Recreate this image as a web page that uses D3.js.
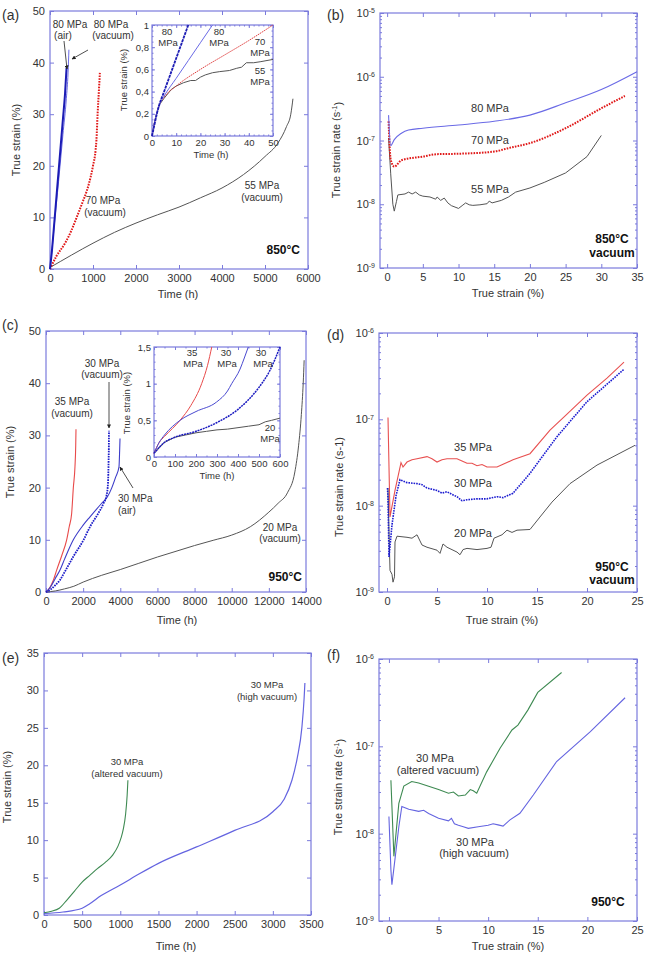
<!DOCTYPE html>
<html lang="en">
<head>
<meta charset="UTF-8">
<title>Creep curves</title>
<script src="https://cdnjs.cloudflare.com/ajax/libs/d3/7.8.5/d3.min.js"></script>
<style>
  body { margin: 0; background: #fff; }
  svg { font-family: "Liberation Sans", Arial, sans-serif; }
  .tick text { fill: #333; }
</style>
</head>
<body>
<script>
// ---- data (a) 850°C, strain vs time ----
const a80Air = [[0,0],[50,4],[100,9],[150,14],[200,19],[250,24],[300,29],[350,34],[385,39]];
const a80Vac = [[0,0],[50,4],[100,8.5],[200,17],[300,26],[380,33],[420,38],[440,42.5]];
const a70 = [[0,0],[150,2.5],[350,5],[500,7.5],[620,10],[760,13],[850,15],[950,18],[1000,20],[1060,23],[1080,25],[1107,30],[1140,35],[1160,38]];
const a55 = [[0,0.3],[250,1.5],[500,2.7],[1000,5],[1500,7.1],[2000,8.9],[2500,10.5],[3000,12],[3500,13.8],[4000,15.7],[4500,18.3],[5000,21.8],[5300,24.4],[5500,27.6],[5600,30],[5650,33]];
// inset (a)
const ia80Air = [[0,0],[1,0.1],[2,0.2],[3,0.28],[5,0.4],[7.5,0.55],[10,0.7],[12.5,0.85],[15,1]];
const ia80Vac = [[0,0],[1,0.12],[3,0.28],[5,0.36],[10,0.52],[15,0.68],[20,0.84],[25,1]];
const ia70 = [[0,0],[1,0.12],[3,0.28],[5,0.35],[10,0.45],[20,0.6],[30,0.73],[40,0.86],[50,1]];
const ia55 = [[0,0],[1,0.12],[3,0.28],[5,0.34],[8,0.42],[10,0.45],[13,0.48],[16,0.5],[18,0.5],[20,0.53],[22,0.55],[25,0.57],[28,0.58],[32,0.59],[35,0.61],[37,0.62],[39,0.66],[42,0.66],[45,0.67],[50,0.69]];

// ---- data (b) 850°C, rate vs strain ----
const b80 = [[0.2,2.5e-7],[0.5,8.3e-8],[1,1.03e-7],[2,1.3e-7],[3,1.46e-7],[5,1.56e-7],[10,1.75e-7],[15,2.0e-7],[20,2.5e-7],[25,3.9e-7],[30,6.3e-7],[35,1.2e-6]];
const b70 = [[0.2,2e-7],[0.5,5e-8],[1,3.9e-8],[2,4.9e-8],[5,5.6e-8],[7,6.1e-8],[10,6.2e-8],[15,6.7e-8],[17,7.6e-8],[20,9.1e-8],[25,1.56e-7],[30,3.2e-7],[33.3,5e-7]];
const b55 = [[0.2,1.1e-7],[0.5,3e-8],[0.8,1e-8],[1,7.8e-9],[1.3,1.1e-8],[1.5,1.4e-8],[2.5,1.45e-8],[3,1.55e-8],[3.5,1.45e-8],[4,1.55e-8],[4.5,1.4e-8],[5,1.34e-8],[6,1.3e-8],[6.8,1.2e-8],[7,1.3e-8],[7.5,1.15e-8],[8,1.25e-8],[8.5,1.05e-8],[9,9.5e-9],[10,8.6e-9],[10.5,9.5e-9],[11,1.05e-8],[11.5,9.8e-9],[12,9.6e-9],[13,9.8e-9],[14,1.02e-8],[14.3,1.12e-8],[14.7,1.05e-8],[16,1.15e-8],[17,1.3e-8],[18,1.55e-8],[20,1.8e-8],[22,2.2e-8],[25,3.1e-8],[28,5.6e-8],[30,1.2e-7]];

// ---- data (c) 950°C, strain vs time ----
const c35 = [[0,0],[200,0.8],[400,2.3],[575,4.2],[850,7],[1113,10],[1250,12.5],[1380,15],[1472,20],[1560,24],[1600,28],[1615,31.2]];
const c30Vac = [[0,0],[250,0.5],[500,1.3],[754,2.3],[1000,3.8],[1472,6.8],[2025,10],[2370,12.5],[2800,15],[3100,17],[3267,18.6],[3340,21],[3370,25],[3385,28],[3392,30.9]];
const c30Air = [[0,0],[250,1],[500,2.6],[754,4.2],[1000,6.3],[1472,10],[2000,12.8],[2370,14.4],[3000,17],[3300,18.2],[3536,19.9],[3750,22],[3931,24],[3965,27],[3985,29.4]];
const c20 = [[0,0],[500,0.2],[1000,0.6],[1500,1.1],[2000,1.9],[3000,3.2],[4000,4.3],[5000,5.5],[6000,6.7],[7000,7.8],[8000,8.9],[9000,9.9],[10000,10.9],[11000,12.5],[12000,15.3],[12500,17],[13000,19],[13400,23],[13600,28],[13750,34],[13850,40],[13900,44.4]];
// inset (c)
const ic35 = [[0,0.05],[25,0.2],[50,0.28],[124,0.5],[175,0.7],[227,1.0],[255,1.25],[275,1.5]];
const ic30Air = [[0,0.05],[25,0.2],[50,0.3],[124,0.5],[200,0.62],[298,0.75],[350,0.9],[370,1.0],[410,1.2],[430,1.35],[449,1.5]];
const ic30Vac = [[0,0.05],[50,0.2],[100,0.27],[200,0.35],[300,0.47],[400,0.65],[500,0.95],[550,1.17],[600,1.5]];
const ic20 = [[0,0.05],[50,0.2],[100,0.27],[150,0.3],[200,0.33],[250,0.35],[300,0.37],[350,0.38],[400,0.4],[450,0.42],[500,0.44],[530,0.48],[560,0.5],[600,0.53]];

// ---- data (d) 950°C, rate vs strain ----
const d35 = [[0.1,1.05e-7],[0.3,7.4e-9],[0.8,1.5e-8],[1.4,3.15e-8],[1.6,2.8e-8],[2,3.2e-8],[2.5,3.4e-8],[3,3.5e-8],[4,3.7e-8],[4.5,3.5e-8],[5,3.2e-8],[5.5,3.4e-8],[6,3.5e-8],[7,3.5e-8],[7.5,3.3e-8],[8,3.1e-8],[8.5,3.1e-8],[9,2.9e-8],[9.5,3e-8],[10,2.8e-8],[10.5,2.8e-8],[11,2.8e-8],[12.6,3.4e-8],[14.3,4e-8],[16.3,7.5e-8],[18,1.15e-7],[20,1.91e-7],[22,3e-7],[23.7,4.6e-7]];
const d30 = [[0.05,1.6e-8],[0.1,1.2e-8],[0.2,2.55e-9],[0.5,6e-9],[0.9,1.3e-8],[1.3,2.0e-8],[2,1.85e-8],[3,1.8e-8],[3.5,1.75e-8],[4,1.6e-8],[5,1.5e-8],[5.5,1.4e-8],[6,1.45e-8],[6.5,1.35e-8],[7,1.27e-8],[7.5,1.14e-8],[8,1.17e-8],[9,1.2e-8],[10,1.2e-8],[11,1.27e-8],[11.6,1.24e-8],[12.6,1.39e-8],[14.3,2.37e-8],[17,6.3e-8],[20,1.6e-7],[23.7,3.8e-7]];
const d20 = [[0.1,1.6e-8],[0.2,5e-9],[0.3,1.78e-9],[0.5,1.6e-9],[0.6,1.3e-9],[0.75,1.5e-9],[0.8,3.8e-9],[1,4.43e-9],[2,4.3e-9],[2.5,4.2e-9],[3,4.6e-9],[3.5,3.5e-9],[4,3.3e-9],[5,3.05e-9],[5.3,2.8e-9],[5.6,3.6e-9],[6,3.3e-9],[7,2.9e-9],[7.3,2.7e-9],[7.6,3.1e-9],[8,3.2e-9],[9,3.1e-9],[10,3.2e-9],[10.4,3.3e-9],[10.7,4.2e-9],[11.5,4.6e-9],[12,5.2e-9],[12.5,4.9e-9],[13,5.2e-9],[14.3,5.3e-9],[15.3,7.4e-9],[16.5,1.1e-8],[18.3,1.8e-8],[21,2.95e-8],[24.8,5e-8]];

// ---- data (e) 950°C 30 MPa, strain vs time ----
const eAltered = [[0,0.3],[100,0.5],[200,0.9],[300,2.0],[400,3.2],[500,4.4],[600,5.3],[700,6.2],[800,7.0],[900,8.0],[970,9.2],[1010,10.3],[1040,11.5],[1070,13.5],[1090,16],[1100,18]];
const eHigh = [[0,0.2],[250,0.4],[500,0.9],[600,1.5],[750,2.6],[1000,4.0],[1250,5.5],[1500,6.9],[2000,9.1],[2500,11.3],[3000,13.8],[3150,15.5],[3250,18],[3320,21],[3380,25],[3410,29],[3420,31]];

// ---- data (f) 950°C 30 MPa, rate vs strain ----
const fAltered = [[0.2,4.1e-8],[0.5,5.5e-9],[1,2.23e-8],[1.5,3.5e-8],[2.3,3.96e-8],[3,3.8e-8],[4,3.5e-8],[5,3.2e-8],[6,2.9e-8],[6.5,3e-8],[7,2.7e-8],[7.7,2.77e-8],[8.2,3.2e-8],[8.5,3.1e-8],[8.85,2.9e-8],[9.85,5.1e-8],[11.2,9.5e-8],[12.4,1.54e-7],[13,1.75e-7],[14,2.6e-7],[15,4.15e-7],[17.4,7e-7]];
const fHigh = [[0,1.57e-8],[0.2,3.85e-9],[0.3,2.6e-9],[0.5,4e-9],[1,1.2e-8],[1.3,2.05e-8],[2,1.9e-8],[3,1.8e-8],[3.5,1.85e-8],[4,1.7e-8],[5,1.5e-8],[6,1.4e-8],[6.3,1.5e-8],[6.6,1.3e-8],[7,1.25e-8],[7.5,1.2e-8],[8,1.15e-8],[9,1.2e-8],[10,1.25e-8],[10.5,1.3e-8],[11,1.26e-8],[11.5,1.22e-8],[12.2,1.44e-8],[13.2,1.71e-8],[14.55,2.77e-8],[16.9,6.7e-8],[20.3,1.47e-7],[23.8,3.6e-7]];

// tick values
const ticksA = { x: d3.range(0, 6001, 1000), y: d3.range(0, 51, 10) };
const ticksIA = { x: d3.range(0, 51, 10), y: [0, 0.2, 0.4, 0.6, 0.8, 1] };
const ticksC = { x: d3.range(0, 14001, 2000), y: d3.range(0, 51, 10) };
const ticksIC = { x: d3.range(0, 601, 100), y: [0, 0.5, 1, 1.5] };
const ticksE = { x: d3.range(0, 3501, 500), y: d3.range(0, 36, 5) };
const ticksRate35 = d3.range(0, 36, 5);
const ticksRate25 = d3.range(0, 26, 5);

const frameColor = "#7b7bdc";
const svg = d3.select("body").append("svg").attr("width", 645).attr("height", 955);

// generic panel: frame, inward ticks on all four sides, labels outside
function panel(o) {
    const x = d3.scaleLinear().domain(o.xd).range([o.l, o.r]);
    const y = (o.log ? d3.scaleLog() : d3.scaleLinear()).domain(o.yd).range([o.b, o.t]);
    const g = svg.append("g");
    g.append("rect").attr("x", o.l).attr("y", o.t)
        .attr("width", o.r - o.l).attr("height", o.b - o.t)
        .attr("fill", "#fff").attr("stroke", "none");
    const fs = o.fs || 11, tl = o.tl || 4;
    const commaFmt = d => String(d).replace(".", ",");

    function ax(gen, pos, vals, size, labels, fmt) {
        const a = gen.tickValues(vals).tickSize(-size).tickPadding(o.pad || 5)
            .tickFormat(labels ? (fmt || commaFmt) : "");
        const sel = g.append("g").attr("transform", pos).call(a);
        sel.select(".domain").remove();
        sel.selectAll("line").attr("stroke", frameColor).attr("stroke-width", 1);
        sel.selectAll("text").attr("font-size", fs).attr("font-family", null);
        return sel;
    }
    ax(d3.axisBottom(x), `translate(0,${o.b})`, o.xt, tl, true);
    ax(d3.axisTop(x), `translate(0,${o.t})`, o.xt, tl, false);
    const yl = ax(d3.axisLeft(y), `translate(${o.l},0)`, o.yt, tl, true);
    ax(d3.axisRight(y), `translate(${o.r},0)`, o.yt, tl, false);
    if (o.xm) {
        ax(d3.axisBottom(x), `translate(0,${o.b})`, o.xm, tl / 2, false);
        ax(d3.axisTop(x), `translate(0,${o.t})`, o.xm, tl / 2, false);
    }
    if (o.ym) {
        ax(d3.axisLeft(y), `translate(${o.l},0)`, o.ym, tl / 2, false);
        ax(d3.axisRight(y), `translate(${o.r},0)`, o.ym, tl / 2, false);
    }
    if (o.log) {
        yl.selectAll(".tick text").text(null).each(function (d) {
            const t = d3.select(this);
            t.append("tspan").text("10");
            t.append("tspan").attr("dy", "-0.55em").attr("font-size", 7)
                .text(Math.round(Math.log10(d)));
        });
    }
    g.append("rect").attr("x", o.l).attr("y", o.t)
        .attr("width", o.r - o.l).attr("height", o.b - o.t)
        .attr("fill", "none").attr("stroke", frameColor).attr("stroke-width", 1.2);
    const lg = g.append("g");
    return { g: lg, x, y };
}

function series(p, data, color, width, dash, curve) {
    p.g.append("path").datum(data)
        .attr("fill", "none").attr("stroke", color)
        .attr("stroke-width", width).attr("stroke-dasharray", dash || null)
        .attr("d", d3.line().x(d => p.x(d[0])).y(d => p.y(d[1]))
            .curve(curve || d3.curveMonotoneX));
}

function text(x, y, str, o = {}) {
    const t = svg.append("text").attr("x", x).attr("y", y).text(str)
        .attr("font-size", o.fs || 10).attr("fill", o.fill || "#333")
        .attr("text-anchor", o.anchor || "middle")
        .attr("font-weight", o.bold ? "bold" : null);
    if (o.rot) t.attr("transform", `rotate(-90,${x},${y})`);
    return t;
}

function arrow(x1, y1, x2, y2) {
    svg.append("line").attr("x1", x1).attr("y1", y1).attr("x2", x2).attr("y2", y2)
        .attr("stroke", "#222").attr("stroke-width", 0.8).attr("marker-end", "url(#arr)");
}

svg.append("defs").append("marker").attr("id", "arr")
    .attr("viewBox", "0 0 10 10").attr("refX", 9).attr("refY", 5)
    .attr("markerWidth", 5).attr("markerHeight", 5).attr("orient", "auto")
    .append("path").attr("d", "M0,0 L10,5 L0,10 z").attr("fill", "#222");

const minorDec = lo => d3.range(lo, -5).flatMap(e => d3.range(2, 10).map(k => k * Math.pow(10, e)));

// ================= (a) =================
const pa = panel({ l: 50, r: 308, t: 11, b: 269, xd: [0, 6000], yd: [0, 50], xt: ticksA.x, yt: ticksA.y });
series(pa, a55, "#555", 1);
series(pa, a70, "#e01818", 2, "1.6,1.2");
series(pa, a80Vac, "#6a6ae6", 1);
series(pa, a80Air, "#1c1cb4", 2);
text(20, 140, "True strain (%)", { fs: 11, rot: true });
text(178, 298, "Time (h)", { fs: 11 });
text(2, 20, "(a)", { fs: 14, anchor: "start" });
text(70, 28, "80 MPa"); text(63, 39, "(air)");
text(111, 28, "80 MPa"); text(113, 39, "(vacuum)");
arrow(64, 41, 67, 69);
arrow(88, 50, 72, 59);
text(103, 204, "70 MPa"); text(105, 216, "(vacuum)");
text(262, 189, "55 MPa"); text(262, 201, "(vacuum)");
text(300, 254, "850°C", { fs: 12, bold: true, anchor: "end", fill: "#111" });

// inset (a)
const pia = panel({ l: 152, r: 273, t: 25, b: 136, xd: [0, 50], yd: [0, 1],
    xt: ticksIA.x, yt: ticksIA.y, xm: d3.range(0, 51, 2), ym: d3.range(0, 1.01, 0.05),
    fs: 9.5, tl: 3, pad: 3 });
series(pia, ia55, "#555", 1, null, d3.curveLinear);
series(pia, ia70, "#e04040", 1, "1.5,0.8");
series(pia, ia80Vac, "#6a6ae6", 1);
series(pia, ia80Air, "#1c1cb4", 1.8, "3,0.8");
text(127, 80, "True strain (%)", { fs: 9.5, rot: true });
text(211, 158, "Time (h)", { fs: 9.5 });
text(167, 35, "80", { fs: 9.5 }); text(168, 46, "MPa", { fs: 9.5 });
text(219, 35, "80", { fs: 9.5 }); text(219, 46, "MPa", { fs: 9.5 });
text(260, 45, "70", { fs: 9.5 }); text(260, 56, "MPa", { fs: 9.5 });
text(260, 74, "55", { fs: 9.5 }); text(260, 85, "MPa", { fs: 9.5 });

// ================= (b) =================
const pb = panel({ l: 380, r: 637, t: 13, b: 268, xd: [-1, 35], yd: [1e-9, 1e-5], log: true,
    xt: ticksRate35, yt: [1e-9, 1e-8, 1e-7, 1e-6, 1e-5], ym: minorDec(-9) });
series(pb, b55, "#555", 1, null, d3.curveLinear);
series(pb, b70, "#e01818", 2, "1.6,1.2");
series(pb, b80, "#6a6ae6", 1.1);
text(340, 150, "True strain rate (s", { fs: 11, rot: true })
    .append("tspan").attr("dy", "-0.5em").attr("font-size", 7).text("-1")
    .select(function () { return this.parentNode; })
    .append("tspan").attr("dy", "0.5em").text(")");
text(508, 297, "True strain (%)", { fs: 11 });
text(327, 20, "(b)", { fs: 14, anchor: "start" });
text(490, 112, "80 MPa", { fs: 11 });
text(490, 144, "70 MPa", { fs: 11 });
text(490, 193, "55 MPa", { fs: 11 });
text(612, 243, "850°C", { fs: 12, bold: true, fill: "#111" });
text(612, 257, "vacuum", { fs: 12, bold: true, fill: "#111" });

// ================= (c) =================
const pc = panel({ l: 46, r: 306, t: 331, b: 592, xd: [0, 14000], yd: [0, 50], xt: ticksC.x, yt: ticksC.y });
series(pc, c20, "#555", 1);
series(pc, c35, "#e84a4a", 1.1);
series(pc, c30Air, "#3c3cc8", 1.1);
series(pc, c30Vac, "#1c1cc8", 1.8, "1.6,1");
text(14, 462, "True strain (%)", { fs: 11, rot: true });
text(177, 624, "Time (h)", { fs: 11 });
text(2, 330, "(c)", { fs: 14, anchor: "start" });
text(72, 405, "35 MPa"); text(72, 417, "(vacuum)");
text(102, 367, "30 MPa"); text(102, 378, "(vacuum)");
arrow(109, 382, 109, 428);
text(118, 502, "30 MPa", { anchor: "start" }); text(118, 514, "(air)", { anchor: "start" });
arrow(133, 488, 120, 467);
text(280, 531, "20 MPa"); text(280, 542, "(vacuum)");
text(302, 581, "950°C", { fs: 12, bold: true, anchor: "end", fill: "#111" });

// inset (c)
const pic = panel({ l: 154, r: 280, t: 347, b: 457, xd: [0, 600], yd: [0, 1.5],
    xt: ticksIC.x, yt: ticksIC.y, xm: d3.range(0, 601, 50), ym: d3.range(0, 1.51, 0.1),
    fs: 9.5, tl: 3, pad: 3 });
series(pic, ic20, "#555", 1, null, d3.curveLinear);
series(pic, ic35, "#e84a4a", 1);
series(pic, ic30Air, "#4a4ad0", 1);
series(pic, ic30Vac, "#1c1cc0", 1.5, "2,0.8");
text(130, 403, "True strain (%)", { fs: 9.5, rot: true });
text(217, 479, "Time (h)", { fs: 9.5 });
text(192, 356, "35", { fs: 9.5 }); text(193, 367, "MPa", { fs: 9.5 });
text(226, 356, "30", { fs: 9.5 }); text(227, 367, "MPa", { fs: 9.5 });
text(261, 356, "30", { fs: 9.5 }); text(263, 367, "MPa", { fs: 9.5 });
text(270, 431, "20", { fs: 9.5 }); text(270, 442, "MPa", { fs: 9.5 });

// ================= (d) =================
const pd = panel({ l: 379, r: 637, t: 333, b: 592, xd: [-0.8, 25], yd: [1e-9, 1e-6], log: true,
    xt: ticksRate25, yt: [1e-9, 1e-8, 1e-7, 1e-6], ym: minorDec(-9).filter(v => v < 1e-6) });
series(pd, d20, "#555", 1, null, d3.curveLinear);
series(pd, d35, "#e85050", 1.1, null, d3.curveLinear);
series(pd, d30, "#1c1cd0", 1.6, "1.6,1", d3.curveLinear);
text(343, 487, "True strain rate (s-1)", { fs: 11, rot: true });
text(502, 624, "True strain (%)", { fs: 11 });
text(327, 340, "(d)", { fs: 14, anchor: "start" });
text(473, 451, "35 MPa", { fs: 11 });
text(473, 487, "30 MPa", { fs: 11 });
text(473, 537, "20 MPa", { fs: 11 });
text(612, 571, "950°C", { fs: 12, bold: true, fill: "#111" });
text(612, 584, "vacuum", { fs: 12, bold: true, fill: "#111" });

// ================= (e) =================
const pe = panel({ l: 44, r: 311, t: 653, b: 915, xd: [0, 3500], yd: [0, 35], xt: ticksE.x, yt: ticksE.y });
series(pe, eHigh, "#6464e0", 1.2);
series(pe, eAltered, "#3e8a52", 1.1);
text(11, 787, "True strain (%)", { fs: 11, rot: true });
text(176, 950, "Time (h)", { fs: 11 });
text(2, 663, "(e)", { fs: 14, anchor: "start" });
text(127, 765, "30 MPa", { fs: 9.5 }); text(127, 777, "(altered vacuum)", { fs: 9.5 });
text(267, 688, "30 MPa", { fs: 9.5 }); text(267, 700, "(high vacuum)", { fs: 9.5 });

// ================= (f) =================
const pf = panel({ l: 379, r: 637, t: 659, b: 921, xd: [-1, 25], yd: [1e-9, 1e-6], log: true,
    xt: ticksRate25, yt: [1e-9, 1e-8, 1e-7, 1e-6], ym: minorDec(-9).filter(v => v < 1e-6) });
series(pf, fHigh, "#6464e0", 1.1, null, d3.curveLinear);
series(pf, fAltered, "#3e8a52", 1.1, null, d3.curveLinear);
text(342, 787, "True strain rate (s", { fs: 11, rot: true })
    .append("tspan").attr("dy", "-0.5em").attr("font-size", 7).text("-1")
    .select(function () { return this.parentNode; })
    .append("tspan").attr("dy", "0.5em").text(")");
text(508, 950, "True strain (%)", { fs: 11 });
text(327, 660, "(f)", { fs: 14, anchor: "start" });
text(435, 762, "30 MPa", { fs: 11 }); text(438, 774, "(altered vacuum)", { fs: 11 });
text(475, 846, "30 MPa", { fs: 11 }); text(474, 857, "(high vacuum)", { fs: 11 });
text(608, 906, "950°C", { fs: 12, bold: true, fill: "#111" });
</script>
</body>
</html>
